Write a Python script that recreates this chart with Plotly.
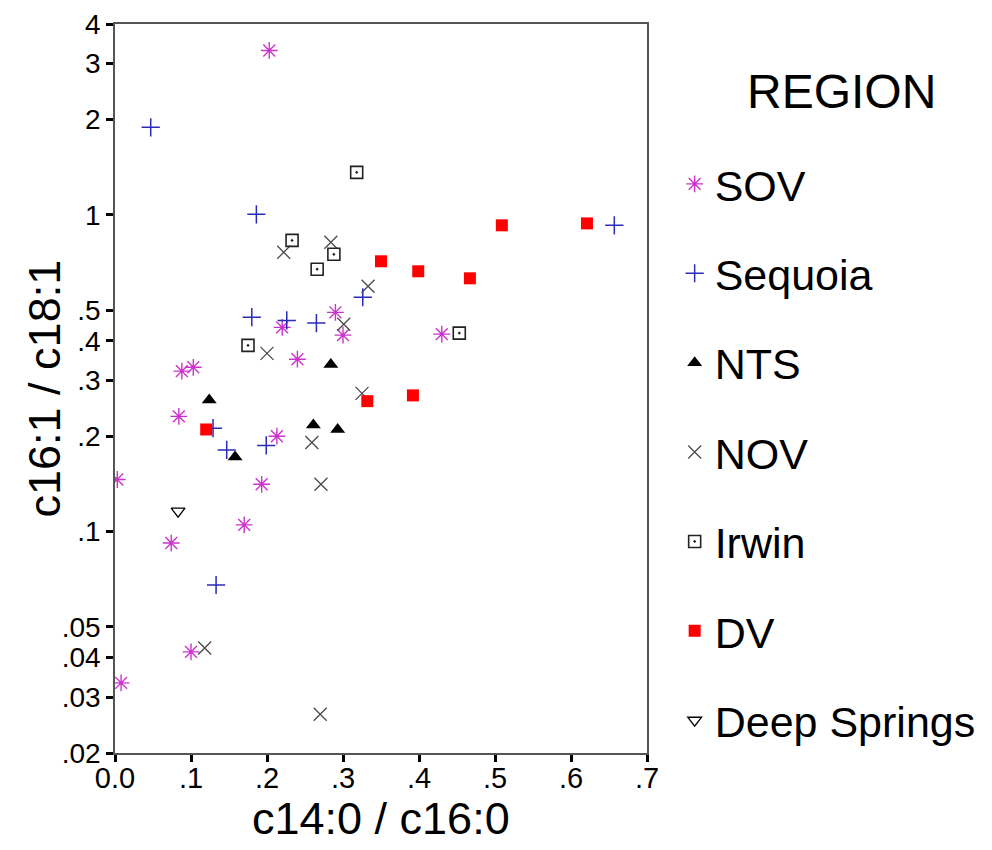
import plotly.graph_objects as go

# c14:0 / c16:0 (x) and c16:1 / c18:1 (y) ratios by region
sov_x = [0.203, 0.088, 0.103, 0.084, 0.003, 0.193, 0.170, 0.074, 0.213, 0.220, 0.240, 0.290, 0.300, 0.430, 0.100, 0.008]
sov_y = [3.30, 0.321, 0.330, 0.231, 0.146, 0.141, 0.105, 0.092, 0.200, 0.441, 0.350, 0.492, 0.417, 0.420, 0.0417, 0.0333]

seq_x = [0.047, 0.186, 0.657, 0.180, 0.226, 0.265, 0.326, 0.129, 0.147, 0.199, 0.133]
seq_y = [1.887, 1.003, 0.926, 0.475, 0.464, 0.455, 0.549, 0.212, 0.181, 0.187, 0.0678]

nts_x = [0.284, 0.124, 0.261, 0.293, 0.158]
nts_y = [0.337, 0.260, 0.217, 0.210, 0.172]

nov_x = [0.222, 0.284, 0.333, 0.301, 0.200, 0.325, 0.259, 0.271, 0.118, 0.270]
nov_y = [0.761, 0.819, 0.595, 0.451, 0.365, 0.273, 0.191, 0.141, 0.0429, 0.0265]

irwin_x = [0.318, 0.233, 0.288, 0.266, 0.453, 0.175]
irwin_y = [1.361, 0.830, 0.750, 0.673, 0.423, 0.387]

dv_x = [0.120, 0.350, 0.399, 0.467, 0.509, 0.621, 0.332, 0.392]
dv_y = [0.210, 0.713, 0.663, 0.630, 0.926, 0.939, 0.258, 0.269]

deep_x = [0.083]
deep_y = [0.116]

x_ticks = [0.0, 0.1, 0.2, 0.3, 0.4, 0.5, 0.6, 0.7]
x_tick_text = ["0.0", ".1", ".2", ".3", ".4", ".5", ".6", ".7"]
y_ticks = [0.02, 0.03, 0.04, 0.05, 0.1, 0.2, 0.3, 0.4, 0.5, 1, 2, 3, 4]
y_tick_text = [".02", ".03", ".04", ".05", ".1", ".2", ".3", ".4", ".5", "1", "2", "3", "4"]

FONT = "Liberation Sans, Arial, sans-serif"

series = [
    ("SOV", sov_x, sov_y, dict(symbol="asterisk-open", size=14, color="#cc33cc",
                               line=dict(color="#cc33cc", width=1.4))),
    ("Sequoia", seq_x, seq_y, dict(symbol="cross-thin-open", size=13, color="#2a2ab8",
                                   line=dict(color="#2a2ab8", width=1.5))),
    ("NTS", nts_x, nts_y, dict(symbol="triangle-up", size=13, color="black",
                               line=dict(width=0))),
    ("NOV", nov_x, nov_y, dict(symbol="x-thin-open", size=13, color="#4a4a4a",
                               line=dict(color="#4a4a4a", width=1.3))),
    ("Irwin", irwin_x, irwin_y, dict(symbol="square-open-dot", size=12, color="#222222",
                                     line=dict(color="#222222", width=1.6))),
    ("DV", dv_x, dv_y, dict(symbol="square", size=12, color="#ff0000",
                            line=dict(width=0))),
    ("Deep Springs", deep_x, deep_y, dict(symbol="triangle-down-open", size=12, color="black",
                                          line=dict(color="black", width=1.3))),
]

fig = go.Figure()
for name, xs, ys, mk in series:
    fig.add_trace(go.Scatter(x=xs, y=ys, mode="markers", name=name,
                             legendgroup=name, marker=mk))

fig.update_layout(
    width=992, height=850,
    margin=dict(l=115, r=345, t=24, b=97, autoexpand=False),
    paper_bgcolor="white", plot_bgcolor="white",
    font=dict(family=FONT, color="black"),
    showlegend=True,
    legend=dict(
        x=1.052, xanchor="left", y=0.828, yanchor="top",
        font=dict(size=43, family=FONT, color="black"),
        tracegroupgap=30.5, itemsizing="trace",
        bgcolor="rgba(0,0,0,0)",
    ),
    annotations=[
        dict(text="REGION", x=1.365, y=0.908, xref="paper", yref="paper",
             xanchor="center", yanchor="middle", showarrow=False,
             font=dict(size=48, family=FONT, color="black")),
        dict(text="c14:0 / c16:0", x=0.5, y=-0.09, xref="paper", yref="paper",
             xanchor="center", yanchor="middle", showarrow=False,
             font=dict(size=45, family=FONT, color="black")),
        dict(text="c16:1 / c18:1", x=-0.1316, y=0.5, xref="paper", yref="paper",
             xanchor="center", yanchor="middle", showarrow=False, textangle=-90,
             font=dict(size=45, family=FONT, color="black")),
    ],
)

fig.update_xaxes(
    range=[0, 0.7], tickvals=x_ticks, ticktext=x_tick_text,
    ticks="outside", ticklen=7, tickwidth=2.5, tickcolor="black",
    showline=True, linecolor="#555555", linewidth=1.5, mirror=True,
    showgrid=False, zeroline=False, automargin=False, ticklabelstandoff=-9,
    tickfont=dict(size=29, family=FONT, color="black"),
)
fig.update_yaxes(
    type="log", range=[-1.69897, 0.60206], tickvals=y_ticks, ticktext=y_tick_text,
    ticks="outside", ticklen=7, tickwidth=2.5, tickcolor="black",
    showline=True, linecolor="#555555", linewidth=1.5, mirror=True,
    showgrid=False, zeroline=False, automargin=False,
    tickfont=dict(size=28, family=FONT, color="black"),
)

fig.write_html("out.html")
